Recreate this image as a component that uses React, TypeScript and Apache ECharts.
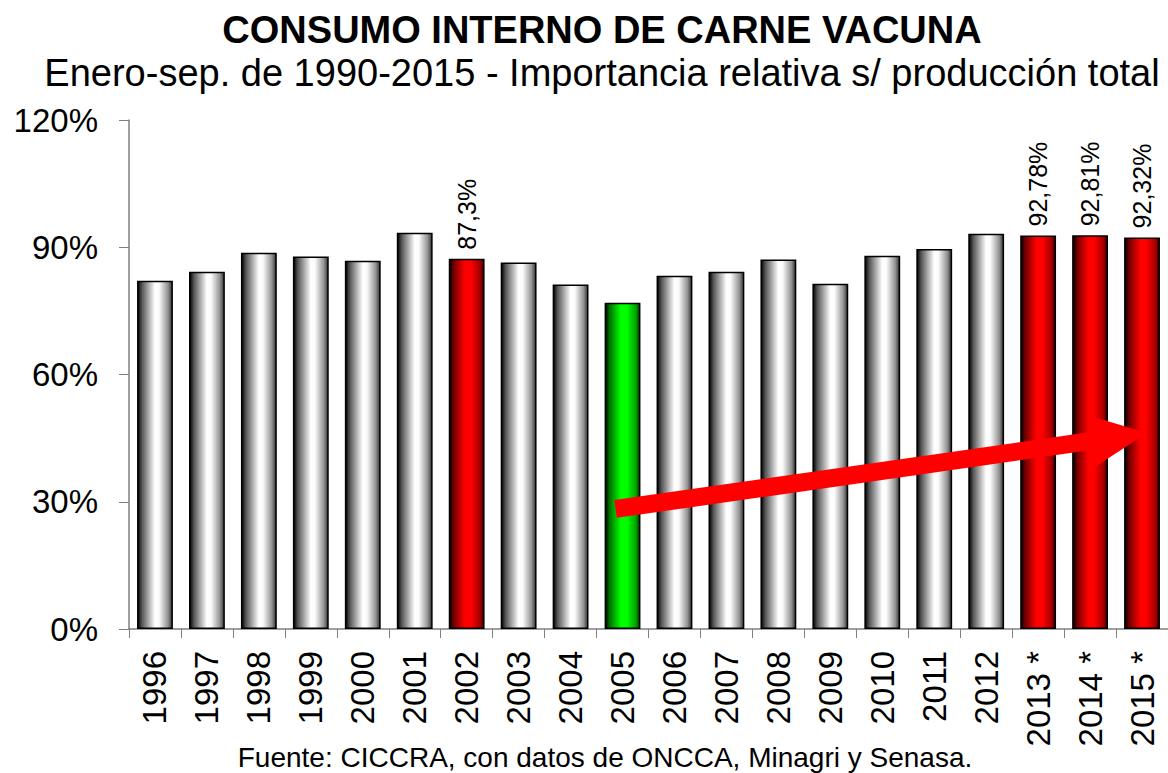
import React, { useEffect, useRef } from "react";
import * as echarts from "echarts";

const categories = ["1996", "1997", "1998", "1999", "2000", "2001", "2002", "2003", "2004", "2005", "2006", "2007", "2008", "2009", "2010", "2011", "2012", "2013 *", "2014 *", "2015 *"];
const values = [82.1, 84.2, 88.7, 87.8, 86.8, 93.4, 87.3, 86.4, 81.2, 76.9, 83.3, 84.2, 87.1, 81.4, 88.0, 89.6, 93.2, 92.78, 92.81, 92.32];
const highlight = ["", "", "", "", "", "", "red", "", "", "green", "", "", "", "", "", "", "", "red", "red", "red"];
const valueLabels = ["", "", "", "", "", "", "87,3%", "", "", "", "", "", "", "", "", "", "", "92,78%", "92,81%", "92,32%"];
const yTicks = [0, 30, 60, 90, 120];
const arrowFrom: [string, number] = ["2005", 28.3];
const arrowTo: [string, number] = ["2015 *", 46.2];

const FONT = "'Liberation Sans', Arial, sans-serif";

function grad(stops: [number, string][]) {
  return new echarts.graphic.LinearGradient(0, 0, 1, 0, stops.map(([offset, color]) => ({ offset, color })));
}

const grayGrad = () => grad([[0, "#000000"], [0.12, "#555555"], [0.5, "#ffffff"], [0.62, "#fbfbfb"], [0.88, "#929292"], [1, "#333333"]]);
const redGrad = () => grad([[0, "#000000"], [0.12, "#700000"], [0.45, "#ff0000"], [0.62, "#ff0000"], [0.9, "#a00000"], [1, "#300000"]]);
const greenGrad = () => grad([[0, "#000000"], [0.12, "#007000"], [0.45, "#00ff00"], [0.62, "#00ff00"], [0.9, "#00a000"], [1, "#003000"]]);

export default function App() {
  const ref = useRef<HTMLDivElement>(null);
  useEffect(() => {
    const chart = echarts.init(ref.current!, null, { renderer: "svg" });
    const data = values.map((v, i) => ({
      value: v,
      itemStyle: {
        color: highlight[i] === "red" ? redGrad() : highlight[i] === "green" ? greenGrad() : grayGrad(),
        borderColor: "#000",
        borderWidth: 1.5,
      },
      label: valueLabels[i]
        ? { show: true, formatter: valueLabels[i] }
        : { show: false },
    }));
    chart.setOption({
      animation: false,
      backgroundColor: "#ffffff",
      title: [
        {
          text: "CONSUMO INTERNO DE CARNE VACUNA",
          left: 597,
          textAlign: "center",
          top: 6,
          textStyle: { fontFamily: FONT, fontSize: 38, fontWeight: "bold", color: "#000" },
        },
        {
          text: "Enero-sep. de 1990-2015 - Importancia relativa s/ producción total",
          left: 597,
          textAlign: "center",
          top: 49,
          textStyle: { fontFamily: FONT, fontSize: 38, fontWeight: "normal", color: "#000" },
        },
        {
          text: "Fuente: CICCRA, con datos de ONCCA, Minagri y Senasa.",
          left: 600,
          textAlign: "center",
          top: 738,
          textStyle: { fontFamily: FONT, fontSize: 28, fontWeight: "normal", color: "#000" },
        },
      ],
      grid: { left: 129, right: -1, top: 120, bottom: 144, containLabel: false },
      xAxis: {
        type: "category",
        data: categories,
        axisLine: { lineStyle: { color: "#7f7f7f", width: 1.5 } },
        axisTick: { show: true, length: 9, lineStyle: { color: "#7f7f7f" } },
        axisLabel: { rotate: 90, fontFamily: FONT, fontSize: 33, color: "#000", margin: 22, interval: 0 },
      },
      yAxis: {
        type: "value",
        min: yTicks[0],
        max: yTicks[yTicks.length - 1],
        interval: 30,
        axisLine: { show: true, lineStyle: { color: "#7f7f7f", width: 1.5 } },
        axisTick: { show: true, length: 10, lineStyle: { color: "#7f7f7f" } },
        splitLine: { show: false },
        axisLabel: { formatter: "{value}%", fontFamily: FONT, fontSize: 33, color: "#000", margin: 31 },
      },
      series: [
        {
          type: "bar",
          data,
          barWidth: "69%",
          label: {
            position: "top",
            rotate: 90,
            align: "left",
            verticalAlign: "middle",
            distance: 9,
            fontFamily: FONT,
            fontSize: 25,
            color: "#000",
          },
        },
      ],
    });

    const p0 = chart.convertToPixel({ xAxisIndex: 0, yAxisIndex: 0 }, arrowFrom) as number[];
    const p1 = chart.convertToPixel({ xAxisIndex: 0, yAxisIndex: 0 }, arrowTo) as number[];
    const tail = [p0[0] - 7, p0[1]];
    const tip = [p1[0] + 5, p1[1]];
    const dx = tip[0] - tail[0];
    const dy = tip[1] - tail[1];
    const len = Math.hypot(dx, dy);
    const ux = dx / len, uy = dy / len;
    const nx = -uy, ny = ux;
    const headLen = 56, headHalf = 26, shaftHalf = 9;
    const bx = tip[0] - ux * headLen, by = tip[1] - uy * headLen;
    const pts = [
      [tail[0] + nx * shaftHalf, tail[1] + ny * shaftHalf],
      [bx + nx * shaftHalf, by + ny * shaftHalf],
      [bx + nx * headHalf, by + ny * headHalf],
      tip,
      [bx - nx * headHalf, by - ny * headHalf],
      [bx - nx * shaftHalf, by - ny * shaftHalf],
      [tail[0] - nx * shaftHalf, tail[1] - ny * shaftHalf],
    ];
    chart.setOption({
      graphic: [
        { type: "polygon", shape: { points: pts }, style: { fill: "#ff0000" }, z: 100 },
      ],
    });

    return () => chart.dispose();
  }, []);
  return (
    <div
      ref={ref}
      style={{ position: "fixed", left: 0, top: 0, width: 1168, height: 773, background: "#fff" }}
    />
  );
}
